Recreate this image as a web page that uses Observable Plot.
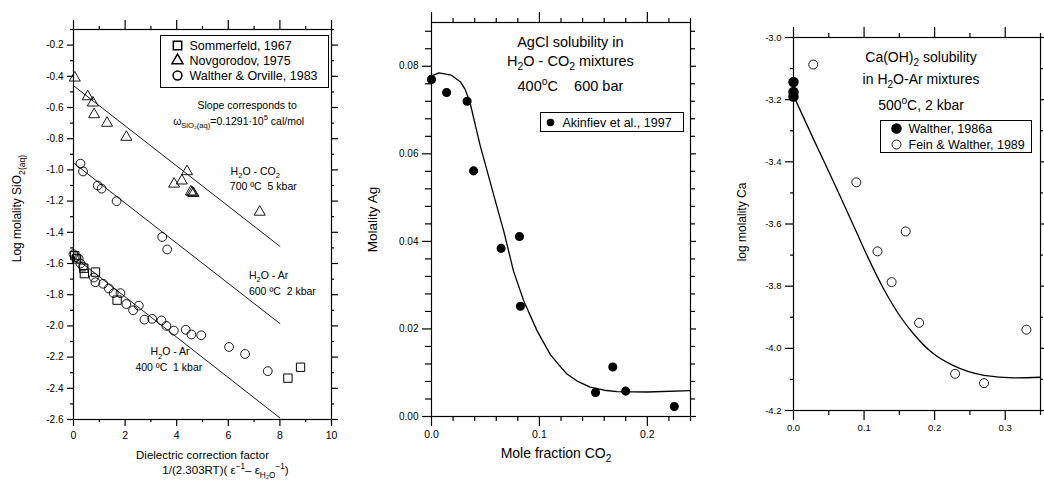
<!DOCTYPE html>
<html><head><meta charset="utf-8">
<script src="https://cdn.jsdelivr.net/npm/d3@7"></script>
<script src="https://cdn.jsdelivr.net/npm/@observablehq/plot@0.6"></script>
<style>
body{margin:0;background:#fff;}
#wrap{position:relative;width:1044px;height:482px;overflow:hidden;background:#fff;}
#wrap svg{position:absolute;top:0;}
</style></head><body><div id="wrap"></div>
<script>
// ---------- Panel 1: SiO2 solubility vs dielectric correction factor ----------
const sommerfeldX = [0.05, 0.12, 0.4, 0.42, 0.85, 1.69, 8.31, 8.8];
const sommerfeldY = [-1.55, -1.57, -1.63, -1.665, -1.655, -1.835, -2.335, -2.265];
const novgorodovX = [0.05, 0.55, 0.75, 0.8, 1.3, 2.05, 4.4, 4.2, 3.9, 4.55, 4.6, 4.65, 7.22];
const novgorodovY = [-0.41, -0.53, -0.57, -0.645, -0.70, -0.79, -1.01, -1.07, -1.09, -1.14, -1.145, -1.15, -1.27];
const waltherOrvilleX = [0.27, 0.37, 0.94, 1.09, 1.67, 3.44, 3.63,
  0.0, 0.1, 0.2, 0.27, 0.37, 0.79, 0.85, 1.15, 1.37, 1.56, 1.82, 2.05, 2.31, 2.53, 2.75, 3.05, 3.41, 3.60, 3.89, 4.35, 4.57, 4.95, 6.03, 6.65, 7.53];
const waltherOrvilleY = [-0.96, -1.01, -1.10, -1.12, -1.20, -1.43, -1.51,
  -1.54, -1.56, -1.57, -1.60, -1.62, -1.69, -1.72, -1.73, -1.76, -1.79, -1.79, -1.86, -1.90, -1.87, -1.96, -1.955, -1.965, -2.00, -2.03, -2.025, -2.055, -2.06, -2.135, -2.18, -2.29];
const fitX = [0, 8];
const fitCO2Y = [-0.46, -1.49];
const fitAr600Y = [-0.955, -1.985];
const fitAr400Y = [-1.555, -2.59];
const p1XMajor = [0, 2, 4, 6, 8, 10];
const p1XMinor = [1, 3, 5, 7, 9];
const p1YMajor = [-2.6, -2.4, -2.2, -2.0, -1.8, -1.6, -1.4, -1.2, -1.0, -0.8, -0.6, -0.4, -0.2];
const p1YMinor = [-2.5, -2.3, -2.1, -1.9, -1.7, -1.5, -1.3, -1.1, -0.9, -0.7, -0.5, -0.3, -0.1];

// ---------- Panel 2: AgCl solubility ----------
const akinfievX = [0, 0.014, 0.033, 0.039, 0.0645, 0.0815, 0.0824, 0.152, 0.168, 0.18, 0.225];
const akinfievY = [0.077, 0.074, 0.072, 0.0561, 0.0384, 0.0411, 0.0252, 0.0055, 0.0113, 0.0058, 0.0023];
const agCurveX = [0, 0.007, 0.018, 0.027, 0.031, 0.0355, 0.045, 0.061, 0.067, 0.076, 0.0855, 0.098, 0.11, 0.118, 0.1255, 0.135, 0.147, 0.16, 0.172, 0.2, 0.24];
const agCurveY = [0.0778, 0.0785, 0.078, 0.0764, 0.0748, 0.0719, 0.062, 0.0476, 0.0423, 0.0332, 0.0264, 0.0195, 0.0142, 0.0118, 0.0097, 0.0081, 0.0067, 0.006, 0.0057, 0.0056, 0.0059];
const p2XMajor = [0, 0.1, 0.2];
const p2XMinor = [0.02, 0.04, 0.06, 0.08, 0.12, 0.14, 0.16, 0.18, 0.22, 0.24];
const p2YMajor = [0, 0.02, 0.04, 0.06, 0.08];
const p2YMinor = [0.004, 0.008, 0.012, 0.016, 0.024, 0.028, 0.032, 0.036, 0.044, 0.048, 0.052, 0.056, 0.064, 0.068, 0.072, 0.076, 0.084, 0.088];

// ---------- Panel 3: Ca(OH)2 solubility ----------
const walther86X = [0, 0, 0];
const walther86Y = [-3.143, -3.175, -3.19];
const feinWaltherX = [0.028, 0.089, 0.119, 0.139, 0.159, 0.178, 0.229, 0.27, 0.33];
const feinWaltherY = [-3.087, -3.466, -3.688, -3.787, -3.624, -3.918, -4.082, -4.112, -3.94];
const caCurveX = [0, 0.03, 0.06, 0.09, 0.105, 0.128, 0.152, 0.17, 0.198, 0.226, 0.27, 0.312, 0.35];
const caCurveY = [-3.187, -3.335, -3.48, -3.63, -3.705, -3.81, -3.9, -3.953, -4.017, -4.055, -4.087, -4.095, -4.093];
const p3XMajor = [0, 0.1, 0.2, 0.3];
const p3XMinor = [0.05, 0.15, 0.25, 0.35];
const p3YMajor = [-4.2, -4.0, -3.8, -3.6, -3.4, -3.2, -3.0];
const p3YMinor = [-4.1, -3.9, -3.7, -3.5, -3.3, -3.1];

// ---------- helpers ----------
const FONT = '"Liberation Sans", Arial, Helvetica, sans-serif';
const pts = (xs, ys) => xs.map((x, i) => ({x, y: ys[i]}));
const id = d => d;

// outward ticks on all four sides + labelled left/bottom axes
function box(o) {
  const W = o.W, H = o.H, k = {stroke: "black", strokeWidth: 1.2};
  return [
    Plot.tickX(o.xMin, {x: id, insetTop: H, insetBottom: -o.xb[1], ...k}),
    Plot.tickX(o.xMaj, {x: id, insetTop: H, insetBottom: -o.xb[0], ...k}),
    Plot.tickX(o.xMin, {x: id, insetTop: -o.xt[1], insetBottom: H, ...k}),
    Plot.tickX(o.xMaj, {x: id, insetTop: -o.xt[0], insetBottom: H, ...k}),
    Plot.tickY(o.yMin, {y: id, insetLeft: -o.yl[1], insetRight: W, ...k}),
    Plot.tickY(o.yMaj, {y: id, insetLeft: -o.yl[0], insetRight: W, ...k}),
    Plot.tickY(o.yMin, {y: id, insetLeft: W, insetRight: -o.yr[1], ...k}),
    Plot.tickY(o.yMaj, {y: id, insetLeft: W, insetRight: -o.yr[0], ...k}),
    Plot.axisX(o.xMaj, {anchor: "bottom", tickSize: 0, tickPadding: o.xb[0] + o.xPad, tickFormat: o.xFmt, fontSize: o.xfs, fill: "black", label: null}),
    Plot.axisY(o.yMaj, {anchor: "left", tickSize: 0, tickPadding: o.yl[0] + o.yPad, tickFormat: o.yFmt, fontSize: o.yfs, fill: "black", label: null}),
    Plot.frame({stroke: "black", strokeWidth: 1.2})
  ];
}

// turn _{..} and ^{..} into real sub/superscript tspans
function richify(svg) {
  svg.querySelectorAll("text, tspan").forEach(t => {
    if (t.children.length) return;
    const s = t.textContent;
    if (!/[_^]\{/.test(s)) return;
    const fs = parseFloat(getComputedStyle(t).fontSize) || 10;
    const parts = s.split(/([_^]\{[^}]*\})/).filter(p => p.length);
    t.textContent = "";
    let cur = 0;
    parts.forEach(p => {
      let mode = 0, tx = p;
      if (p.startsWith("_{")) { mode = 1; tx = p.slice(2, -1); }
      else if (p.startsWith("^{")) { mode = -1; tx = p.slice(2, -1); }
      const target = mode === 1 ? 0.3 * fs : mode === -1 ? -0.42 * fs : 0;
      const ts = document.createElementNS("http://www.w3.org/2000/svg", "tspan");
      ts.setAttribute("dy", (target - cur).toFixed(2));
      if (mode) ts.setAttribute("font-size", (0.72 * fs).toFixed(2));
      ts.textContent = tx;
      t.appendChild(ts);
      cur = target;
    });
  });
}

const wrap = document.getElementById("wrap");
function place(svg, left) {
  svg.style.left = left + "px";
  wrap.appendChild(svg);
  richify(svg);
}
const style = {fontFamily: FONT, fontSize: "10px", color: "black", background: "transparent", overflow: "visible"};
const txt = (s, o) => Plot.text([s], {text: id, fill: "black", fontFamily: FONT, lineAnchor: "middle", textAnchor: "middle", ...o});

// ---------- Panel 1 ----------
const p1 = Plot.plot({
  width: 350, height: 482,
  marginLeft: 73, marginRight: 19, marginTop: 29, marginBottom: 63,
  x: {domain: [0, 10], label: null},
  y: {domain: [-2.6, -0.1], label: null},
  style,
  marks: [
    Plot.line(pts(fitX, fitCO2Y), {x: "x", y: "y", stroke: "black", strokeWidth: 0.9}),
    Plot.line(pts(fitX, fitAr600Y), {x: "x", y: "y", stroke: "black", strokeWidth: 0.9}),
    Plot.line(pts(fitX, fitAr400Y), {x: "x", y: "y", stroke: "black", strokeWidth: 0.9}),
    Plot.dot(pts(waltherOrvilleX, waltherOrvilleY), {x: "x", y: "y", symbol: "circle", r: 4.4, stroke: "black", fill: "none", strokeWidth: 0.9}),
    Plot.dot(pts(sommerfeldX, sommerfeldY), {x: "x", y: "y", symbol: "square", r: 4.7, stroke: "black", fill: "none", strokeWidth: 1}),
    Plot.dot(pts(novgorodovX, novgorodovY), {x: "x", y: "y", symbol: "triangle", r: 4.1, stroke: "black", fill: "none", strokeWidth: 0.9}),
    ...box({W: 258, H: 390, xMaj: p1XMajor, xMin: p1XMinor, yMaj: p1YMajor, yMin: p1YMinor,
      xFmt: d => String(d), yFmt: d => d.toFixed(1), xfs: 10.5, yfs: 10,
      xb: [7, 3], xt: [9, 3], yl: [6, 3], yr: [7, 3], xPad: 5, yPad: 4}),
    // legend
    Plot.frame({insetLeft: 87, insetRight: 3, insetTop: 6, insetBottom: 332, stroke: "black", fill: "white", strokeWidth: 1}),
    Plot.dot([0], {frameAnchor: "top-left", dx: 104, dy: 16, symbol: "square", r: 4.7, stroke: "black", fill: "none"}),
    Plot.dot([0], {frameAnchor: "top-left", dx: 104, dy: 31, symbol: "triangle", r: 4.1, stroke: "black", fill: "none"}),
    Plot.dot([0], {frameAnchor: "top-left", dx: 104, dy: 46, symbol: "circle", r: 4.4, stroke: "black", fill: "none"}),
    txt("Sommerfeld, 1967", {frameAnchor: "top-left", dx: 116, dy: 16, textAnchor: "start", fontSize: 12.5}),
    txt("Novgorodov, 1975", {frameAnchor: "top-left", dx: 116, dy: 31, textAnchor: "start", fontSize: 12.5}),
    txt("Walther & Orville, 1983", {frameAnchor: "top-left", dx: 116, dy: 46, textAnchor: "start", fontSize: 12.5}),
    // annotations
    txt("Slope corresponds to", {x: 6.73, y: -0.59, fontSize: 10.5}),
    txt("ω_{SiO₂(aq)}=0.1291·10^{5} cal/mol", {x: 6.4, y: -0.69, fontSize: 10.5}),
    txt("H_{2}O - CO_{2}", {x: 6.09, y: -1.013, textAnchor: "start", fontSize: 10.5}),
    txt("700 ºC  5 kbar", {x: 6.06, y: -1.11, textAnchor: "start", fontSize: 10.5}),
    txt("H_{2}O - Ar", {x: 6.8, y: -1.676, textAnchor: "start", fontSize: 10.5}),
    txt("600 ºC  2 kbar", {x: 6.8, y: -1.783, textAnchor: "start", fontSize: 10.5}),
    txt("H_{2}O - Ar", {x: 2.98, y: -2.168, textAnchor: "start", fontSize: 10.5}),
    txt("400 ºC  1 kbar", {x: 2.4, y: -2.269, textAnchor: "start", fontSize: 10.5}),
    // axis titles
    txt("Log molality SiO_{2(aq)}", {frameAnchor: "left", dx: -56, dy: -16, rotate: -90, fontSize: 12}),
    txt("Dielectric correction factor", {frameAnchor: "bottom", dx: 0, dy: 36, fontSize: 11.5}),
    txt("1/(2.303RT)( ε^{−1}– ε_{H₂O}^{−1})", {frameAnchor: "bottom", dx: 23, dy: 51, fontSize: 11.5})
  ]
});
place(p1, 0);

// ---------- Panel 2 ----------
const p2 = Plot.plot({
  width: 350, height: 482,
  marginLeft: 81, marginRight: 10, marginTop: 22, marginBottom: 66,
  x: {domain: [0, 0.24], label: null},
  y: {domain: [0, 0.09], label: null},
  style,
  marks: [
    Plot.line(pts(agCurveX, agCurveY), {x: "x", y: "y", stroke: "black", strokeWidth: 1.3}),
    Plot.dot(pts(akinfievX, akinfievY), {x: "x", y: "y", r: 3.8, fill: "black", stroke: "black"}),
    ...box({W: 259, H: 394, xMaj: p2XMajor, xMin: p2XMinor, yMaj: p2YMajor, yMin: p2YMinor,
      xFmt: d => d.toFixed(1), yFmt: d => d.toFixed(2), xfs: 10.5, yfs: 10,
      xb: [10, 5], xt: [10, 4], yl: [9, 6], yr: [6, 5], xPad: 4, yPad: 4}),
    // legend
    Plot.frame({insetLeft: 109, insetRight: 7, insetTop: 90, insetBottom: 285, stroke: "black", fill: "white", strokeWidth: 1}),
    Plot.dot([0], {frameAnchor: "top-left", dx: 119, dy: 100, r: 3.8, fill: "black"}),
    txt("Akinfiev et al., 1997", {frameAnchor: "top-left", dx: 131, dy: 100, textAnchor: "start", fontSize: 12.5}),
    // titles
    txt("AgCl solubility in", {x: 0.1287, y: 0.0855, fontSize: 14.5}),
    txt("H_{2}O - CO_{2} mixtures", {x: 0.1287, y: 0.0812, fontSize: 14.5}),
    txt("400^{o}C    600 bar", {x: 0.1287, y: 0.0754, fontSize: 14.5}),
    txt("Molality Ag", {frameAnchor: "left", dx: -59, dy: 0, rotate: -90, fontSize: 13.5}),
    txt("Mole fraction CO_{2}", {frameAnchor: "bottom", dx: -5, dy: 37, fontSize: 14})
  ]
});
place(p2, 350);

// ---------- Panel 3 ----------
const p3 = Plot.plot({
  width: 344, height: 482,
  marginLeft: 93, marginRight: 4, marginTop: 37, marginBottom: 72,
  x: {domain: [0, 0.35], label: null},
  y: {domain: [-4.2, -3.0], label: null},
  style,
  marks: [
    Plot.line(pts(caCurveX, caCurveY), {x: "x", y: "y", stroke: "black", strokeWidth: 1.3, curve: "monotone-x"}),
    Plot.dot(pts(feinWaltherX, feinWaltherY), {x: "x", y: "y", r: 4.5, fill: "white", stroke: "black", strokeWidth: 0.9}),
    Plot.dot(pts(walther86X, walther86Y), {x: "x", y: "y", r: 4.5, fill: "black", stroke: "black"}),
    ...box({W: 247, H: 373, xMaj: p3XMajor, xMin: p3XMinor, yMaj: p3YMajor, yMin: p3YMinor,
      xFmt: d => d.toFixed(1), yFmt: d => d.toFixed(1), xfs: 9.5, yfs: 9.5,
      xb: [10, 5], xt: [10, 4], yl: [8, 3], yr: [6, 3], xPad: 4, yPad: 4}),
    // legend
    Plot.frame({insetLeft: 87, insetRight: 9, insetTop: 83, insetBottom: 258, stroke: "black", fill: "white", strokeWidth: 1}),
    Plot.dot([0], {frameAnchor: "top-left", dx: 103, dy: 91, r: 4.5, fill: "black", stroke: "black"}),
    Plot.dot([0], {frameAnchor: "top-left", dx: 103, dy: 107, r: 4.5, fill: "white", stroke: "black", strokeWidth: 0.9}),
    txt("Walther, 1986a", {frameAnchor: "top-left", dx: 115, dy: 91, textAnchor: "start", fontSize: 12.5}),
    txt("Fein & Walther, 1989", {frameAnchor: "top-left", dx: 115, dy: 107, textAnchor: "start", fontSize: 12.5}),
    // titles
    txt("Ca(OH)_{2} solubility", {x: 0.1807, y: -3.063, fontSize: 14}),
    txt("in H_{2}O-Ar mixtures", {x: 0.1807, y: -3.136, fontSize: 14}),
    txt("500^{o}C, 2 kbar", {x: 0.1807, y: -3.219, fontSize: 14}),
    txt("log molality Ca", {frameAnchor: "left", dx: -51, dy: -2, rotate: -90, fontSize: 12})
  ]
});
place(p3, 700);
</script></body></html>
